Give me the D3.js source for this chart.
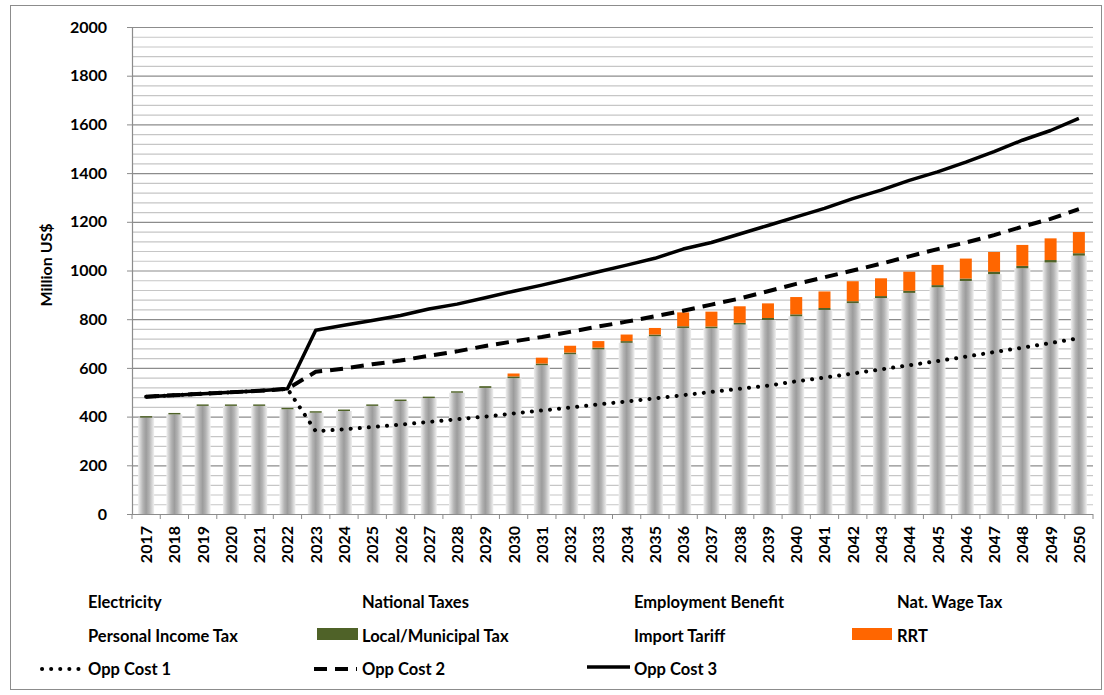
<!DOCTYPE html>
<html>
<head>
<meta charset="utf-8">
<script src="https://cdn.jsdelivr.net/npm/d3@7"></script>
<style>
  html, body { margin: 0; padding: 0; background: #fff; }
  svg text { font-family: Lato, "Open Sans", sans-serif; font-weight: bold; fill: #000; }
</style>
</head>
<body>
<svg id="chart" width="1104" height="695"></svg>
<script>
// ---- data ----
const years = ["2017","2018","2019","2020","2021","2022","2023","2024","2025","2026","2027","2028","2029","2030","2031","2032","2033","2034","2035","2036","2037","2038","2039","2040","2041","2042","2043","2044","2045","2046","2047","2048","2049","2050"];
const electricity = [396,409,444,444,444,430,416,423,444,464,476,498,518,558,611,656,676,703,730,764,763,778,797,812,838,866,887,908,931,957,985,1009,1033,1061];
const localTax    = [6,6,6,6,6,6,6,6,6,6,6,6,7,7,7,7,7,7,7,7,7,7,8,8,8,8,8,9,9,10,10,10,10,10];
const rrt         = [0,0,0,0,0,0,0,0,0,0,0,0,0,12,24,28,27,27,27,57,61,68,60,71,68,82,73,78,83,82,81,86,89,87];
const oppCost1 = [482,488,494,500,506,514,340,348,357,367,378,389,400,413,425,437,450,462,475,488,501,514,527,545,560,577,594,611,628,646,665,683,702,722];
const oppCost2 = [482,488,494,500,506,514,584,597,615,630,650,668,690,709,727,748,770,790,812,835,860,885,915,945,972,1000,1028,1058,1088,1115,1145,1180,1212,1252];
const oppCost3 = [482,488,494,500,506,514,755,775,795,815,842,862,888,915,940,967,995,1022,1050,1088,1115,1150,1185,1220,1255,1295,1330,1370,1405,1445,1488,1535,1575,1625];
const yTicks = [0,200,400,600,800,1000,1200,1400,1600,1800,2000];
const legendRows = [
  ["Electricity","National Taxes","Employment Benefit","Nat. Wage Tax"],
  ["Personal Income Tax","Local/Municipal Tax","Import Tariff","RRT"],
  ["Opp Cost 1","Opp Cost 2","Opp Cost 3"]
];

// ---- layout ----
const svg = d3.select("#chart");
const plot = {left: 132, right: 1093, top: 27, bottom: 514};
const xc = d3.scalePoint().domain(years).range([plot.left, plot.right]).padding(0.5);
const y = d3.scaleLinear().domain([0, 2000]).range([plot.bottom, plot.top]);
const barW = 16, capW = 12;

// outer frame
svg.append("rect").attr("x", 10.5).attr("y", 5.5).attr("width", 1091).attr("height", 684)
  .attr("fill", "none").attr("stroke", "#8c8c8c").attr("stroke-width", 1);

// gradient
const defs = svg.append("defs");
const grad = defs.append("linearGradient").attr("id", "barGrad").attr("x1", "0%").attr("x2", "100%").attr("y1", "0%").attr("y2", "0%");
grad.append("stop").attr("offset", "0%").attr("stop-color", "#f0f0f0");
grad.append("stop").attr("offset", "30%").attr("stop-color", "#b4b4b4");
grad.append("stop").attr("offset", "50%").attr("stop-color", "#9c9c9c");
grad.append("stop").attr("offset", "70%").attr("stop-color", "#b4b4b4");
grad.append("stop").attr("offset", "100%").attr("stop-color", "#f0f0f0");

// gridlines
const minor = d3.range(0, 2001, 40);
svg.append("g").selectAll("line").data(minor).join("line")
  .attr("x1", plot.left).attr("x2", plot.right)
  .attr("y1", d => y(d) + 0.5).attr("y2", d => y(d) + 0.5)
  .attr("stroke", d => d % 200 === 0 ? "#8c8c8c" : "#c6c6c6")
  .attr("stroke-width", 1.2);

// bars
const stackKeys = ["electricity","localTax","rrt"];
const rows = years.map((yr, i) => ({year: yr, electricity: electricity[i], localTax: localTax[i], rrt: rrt[i]}));
const stacked = d3.stack().keys(stackKeys)(rows);
const fills = {electricity: "url(#barGrad)", localTax: "#4f6228", rrt: "#ff6600"};
stacked.forEach(layer => {
  const w = layer.key === "electricity" ? barW : capW;
  svg.append("g").selectAll("rect").data(layer.filter(d => d[1] - d[0] > 0)).join("rect")
    .attr("x", d => xc(d.data.year) - w / 2)
    .attr("width", w)
    .attr("y", d => y(d[1]))
    .attr("height", d => y(d[0]) - y(d[1]))
    .attr("fill", fills[layer.key]);
});

// axes
const yAxis = d3.axisLeft(y).tickValues(yTicks).tickSize(5).tickPadding(20).tickFormat(d3.format("d"));
const gy = svg.append("g").attr("transform", `translate(${plot.left},0)`).call(yAxis);
gy.select(".domain").attr("stroke", "#8c8c8c").attr("stroke-width", 1.2);
gy.selectAll(".tick line").attr("stroke", "#8c8c8c");
gy.selectAll(".tick text").style("font-size", "16px").attr("fill", "#000");

const gx = svg.append("g").attr("transform", `translate(0,${plot.bottom})`);
gx.append("line").attr("x1", plot.left).attr("x2", plot.right).attr("y1", 0.5).attr("y2", 0.5)
  .attr("stroke", "#8c8c8c").attr("stroke-width", 1.2);
const step = xc.step();
gx.selectAll("line.tk").data(years.concat(["end"])).join("line").attr("class", "tk")
  .attr("x1", (d, i) => plot.left + i * step).attr("x2", (d, i) => plot.left + i * step)
  .attr("y1", 0).attr("y2", 5).attr("stroke", "#8c8c8c");
gx.selectAll("text").data(years).join("text")
  .attr("transform", d => `translate(${xc(d) + 6},12) rotate(-90)`)
  .attr("text-anchor", "end")
  .style("font-size", "16px")
  .text(d => d);

// y title
svg.append("text").attr("transform", "translate(52,265) rotate(-90)")
  .attr("text-anchor", "middle").style("font-size", "16px").text("Million US$");

// lines
const line = d3.line().x((d, i) => xc(years[i])).y(d => y(d));
svg.append("path").datum(oppCost1).attr("d", line).attr("fill", "none").attr("stroke", "#000")
  .attr("stroke-width", 4).attr("stroke-linecap", "round").attr("stroke-dasharray", "0.1,9");
svg.append("path").datum(oppCost2).attr("d", line).attr("fill", "none").attr("stroke", "#000")
  .attr("stroke-width", 4).attr("stroke-dasharray", "13,8");
svg.append("path").datum(oppCost3).attr("d", line).attr("fill", "none").attr("stroke", "#000")
  .attr("stroke-width", 3.5).attr("stroke-linejoin", "round");

// legend
const colX = [88, 362, 634, 897];
const rowY = [608, 642, 675];
const lg = svg.append("g");
legendRows.forEach((row, r) => {
  row.forEach((name, c) => {
    lg.append("text").attr("x", colX[c]).attr("y", rowY[r]).style("font-size", "16.5px").text(name);
  });
});
// swatches
lg.append("rect").attr("x", 317).attr("y", 628).attr("width", 41).attr("height", 12).attr("fill", "#4f6228");
lg.append("rect").attr("x", 852).attr("y", 628).attr("width", 40).attr("height", 12).attr("fill", "#ff6600");
lg.append("line").attr("x1", 42).attr("x2", 84).attr("y1", 669).attr("y2", 669).attr("stroke", "#000")
  .attr("stroke-width", 4).attr("stroke-linecap", "round").attr("stroke-dasharray", "0.1,9");
lg.append("line").attr("x1", 314).attr("x2", 357).attr("y1", 669).attr("y2", 669).attr("stroke", "#000")
  .attr("stroke-width", 4).attr("stroke-dasharray", "13,8");
lg.append("line").attr("x1", 587).attr("x2", 630).attr("y1", 667).attr("y2", 667).attr("stroke", "#000")
  .attr("stroke-width", 3.5);
</script>
</body>
</html>
